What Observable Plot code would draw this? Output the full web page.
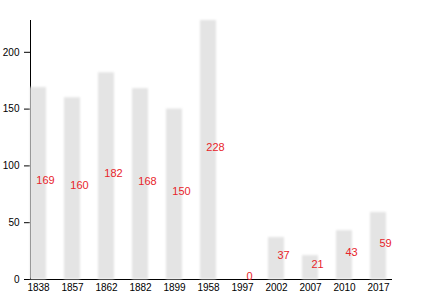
<!DOCTYPE html>
<html>
<head>
<meta charset="utf-8">
<script src="https://cdn.jsdelivr.net/npm/d3@7"></script>
<script src="https://cdn.jsdelivr.net/npm/@observablehq/plot@0.6"></script>
<style>
  html, body { margin: 0; padding: 0; background: #fff; }
  #chart svg { display: block; }
</style>
</head>
<body>
<div id="chart"></div>
<script>
const years = ["1838","1857","1862","1882","1899","1958","1997","2002","2007","2010","2017"];
const values = [169, 160, 182, 168, 150, 228, 0, 37, 21, 43, 59];
const yTicks = [0, 50, 100, 150, 200];

const data = years.map((year, i) => ({year, value: values[i]}));

const chart = Plot.plot({
  width: 430,
  height: 300,
  marginLeft: 30,
  marginRight: 39,
  marginTop: 20,
  marginBottom: 21,
  style: {fontFamily: "'Liberation Sans', Arial, sans-serif", fontSize: "10px", background: "#fff", color: "#000"},
  x: {domain: years, paddingInner: 0.536, paddingOuter: 0, align: 0, label: null, tickSize: 0, tickPadding: 4, line: true},
  y: {domain: [0, 228], label: null, ticks: yTicks, tickSize: 6, tickPadding: 5, line: true},
  marks: [
    Plot.gridY(yTicks.filter(d => d > 0), {stroke: "#e6e6e6", strokeOpacity: 1, x1: 30, x2: 393}),
    Plot.barY(data, {x: "year", y: "value", fill: "#e4e4e4", className: "bars"}),
    Plot.text(data, {x: "year", y: d => d.value / 2, text: d => String(d.value), fill: "#e8242b", fontSize: 11, dx: 7, dy: -3})
  ]
});
document.getElementById("chart").append(chart);
d3.select(chart).selectAll(".bars rect, g[aria-label='bar'] rect").style("filter", "blur(1.2px)");
</script>
</body>
</html>
